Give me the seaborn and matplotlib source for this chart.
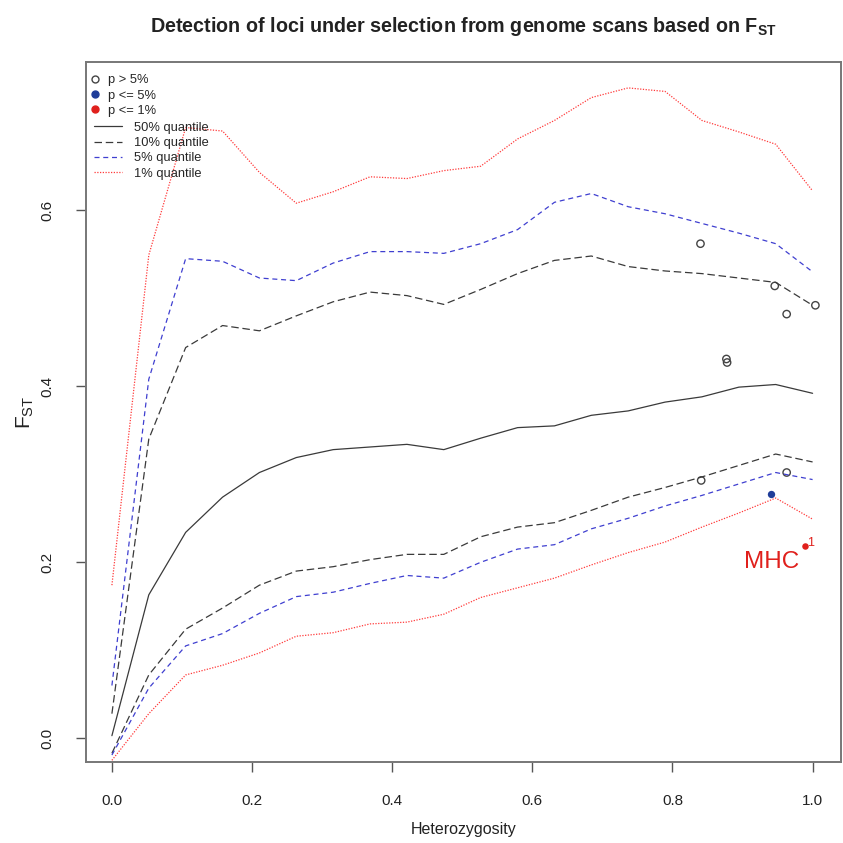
import numpy as np
import pandas as pd
import matplotlib
matplotlib.use("Agg")
import matplotlib.pyplot as plt
from matplotlib.lines import Line2D
import seaborn as sns

# heterozygosity grid of the simulated quantiles
het = [i / 19 for i in range(20)]

# quantile curves (upper / lower)
q50 = [0.003, 0.163, 0.234, 0.274, 0.302, 0.319, 0.328, 0.331, 0.334, 0.328,
       0.341, 0.353, 0.355, 0.367, 0.372, 0.382, 0.388, 0.399, 0.402, 0.392]
q10_up = [0.028, 0.340, 0.444, 0.469, 0.463, 0.480, 0.496, 0.507, 0.503, 0.493,
          0.510, 0.528, 0.543, 0.548, 0.536, 0.531, 0.528, 0.523, 0.518, 0.492]
q10_lo = [-0.017, 0.072, 0.124, 0.148, 0.174, 0.190, 0.195, 0.203, 0.209, 0.209,
          0.229, 0.240, 0.245, 0.259, 0.274, 0.285, 0.297, 0.310, 0.323, 0.314]
q05_up = [0.060, 0.408, 0.545, 0.542, 0.523, 0.520, 0.540, 0.553, 0.553, 0.551,
          0.562, 0.578, 0.609, 0.619, 0.604, 0.596, 0.585, 0.574, 0.562, 0.530]
q05_lo = [-0.019, 0.057, 0.105, 0.119, 0.142, 0.161, 0.166, 0.176, 0.185, 0.182,
          0.200, 0.215, 0.220, 0.238, 0.250, 0.264, 0.276, 0.289, 0.302, 0.294]
q01_up = [0.174, 0.549, 0.694, 0.690, 0.643, 0.608, 0.621, 0.638, 0.636, 0.645,
          0.650, 0.681, 0.702, 0.728, 0.739, 0.735, 0.702, 0.689, 0.675, 0.622]
q01_lo = [-0.025, 0.028, 0.072, 0.083, 0.097, 0.116, 0.120, 0.130, 0.132, 0.141,
          0.160, 0.171, 0.182, 0.197, 0.211, 0.223, 0.240, 0.256, 0.273, 0.249]

# observed loci
loci_het = [0.840, 0.946, 1.004, 0.963, 0.877, 0.878, 0.841, 0.963, 0.940, 0.989]
loci_fst = [0.562, 0.514, 0.492, 0.482, 0.431, 0.427, 0.293, 0.302, 0.278, 0.218]
loci_sig = ["ns", "ns", "ns", "ns", "ns", "ns", "ns", "ns", "p5", "p1"]

black = "#3a3a3a"
blue = "#3f3fd0"
red = "#ff3b3b"

sns.set_theme(style="ticks")
plt.rcParams["font.family"] = ["Liberation Sans", "DejaVu Sans"]
plt.rcParams["mathtext.fontset"] = "custom"
plt.rcParams["mathtext.rm"] = "Liberation Sans"
plt.rcParams["mathtext.bf"] = "Liberation Sans:bold"

fig = plt.figure(figsize=(8.43, 8.43), dpi=100)
ax = fig.add_axes([0.102, 0.096, 0.896, 0.830])

curves = [
    (q50, black, None),
    (q10_up, black, (6, 3)),
    (q10_lo, black, (6, 3)),
    (q05_up, blue, (4, 3)),
    (q05_lo, blue, (4, 3)),
    (q01_up, red, (1, 1.2)),
    (q01_lo, red, (1, 1.2)),
]
for vals, col, dash in curves:
    sns.lineplot(x=het, y=vals, ax=ax, color=col, linewidth=0.9)
    if dash is not None:
        ax.lines[-1].set_dashes(dash)

df = pd.DataFrame({"het": loci_het, "fst": loci_fst, "sig": loci_sig})
ns = df[df.sig == "ns"]
sns.scatterplot(x=ns.het, y=ns.fst, ax=ax, marker="o", s=28,
                facecolor="none", edgecolor="#444444", linewidth=1.0)
p5 = df[df.sig == "p5"]
sns.scatterplot(x=p5.het, y=p5.fst, ax=ax, s=28, color="#1f3d99", linewidth=0)
p1 = df[df.sig == "p1"]
sns.scatterplot(x=p1.het, y=p1.fst, ax=ax, s=22, color="#e0201c", linewidth=0)
ax.text(p1.het.iloc[0] + 0.003, p1.fst.iloc[0] + 0.004, "1", fontsize=9,
        color="#e0201c", ha="left", va="center")
ax.text(p1.het.iloc[0] - 0.008, p1.fst.iloc[0] - 0.018, "MHC", fontsize=17.5,
        color="#e0201c", ha="right", va="center")

ax.set_xlim(-0.037, 1.041)
ax.set_ylim(-0.027, 0.768)
ax.set_xticks([0.0, 0.2, 0.4, 0.6, 0.8, 1.0])
ax.set_yticks([0.0, 0.2, 0.4, 0.6])
ax.set_xticklabels(["0.0", "0.2", "0.4", "0.6", "0.8", "1.0"])
ax.set_yticklabels(["0.0", "0.2", "0.4", "0.6"], rotation=90, va="center")
ax.tick_params(axis="both", length=7, width=1, color="#555555",
               labelsize=11, pad=16, labelcolor="#222222")
for sp in ax.spines.values():
    sp.set_visible(True)
    sp.set_color("#777777")
    sp.set_linewidth(1.4)

ax.set_xlabel("Heterozygosity", fontsize=11.5, labelpad=10, color="#222222")
ax.set_ylabel("F$_\\mathregular{ST}$", fontsize=15, labelpad=3, color="#222222")
fig.suptitle("Detection of loci under selection from genome scans based on F$_\\mathbf{ST}$",
             x=0.549, y=0.982, fontsize=14.2, fontweight="bold", color="#222222")

pt_handles = [
    Line2D([], [], marker="o", ls="none", mfc="none", mec="#444444", ms=5),
    Line2D([], [], marker="o", ls="none", mfc="#1f3d99", mec="#1f3d99", ms=5),
    Line2D([], [], marker="o", ls="none", mfc="#e0201c", mec="#e0201c", ms=5),
]
leg1 = ax.legend(pt_handles, ["p > 5%", "p <= 5%", "p <= 1%"], loc="upper left",
                 bbox_to_anchor=(-0.004, 0.994), frameon=False, fontsize=9.3,
                 handlelength=0.6, handletextpad=0.7, labelspacing=0.25,
                 borderaxespad=0.2)
ax.add_artist(leg1)
ln_handles = [
    Line2D([], [], color=black, lw=0.9),
    Line2D([], [], color=black, lw=0.9, dashes=(6, 3)),
    Line2D([], [], color=blue, lw=0.9, dashes=(4, 3)),
    Line2D([], [], color=red, lw=0.9, dashes=(1, 1.2)),
]
ax.legend(ln_handles, ["50% quantile", "10% quantile", "5% quantile", "1% quantile"],
          loc="upper left", bbox_to_anchor=(0.0, 0.926), frameon=False, fontsize=9.3,
          handlelength=2.2, handletextpad=0.9, labelspacing=0.25, borderaxespad=0.2)

fig.savefig("out.png", dpi=100)
